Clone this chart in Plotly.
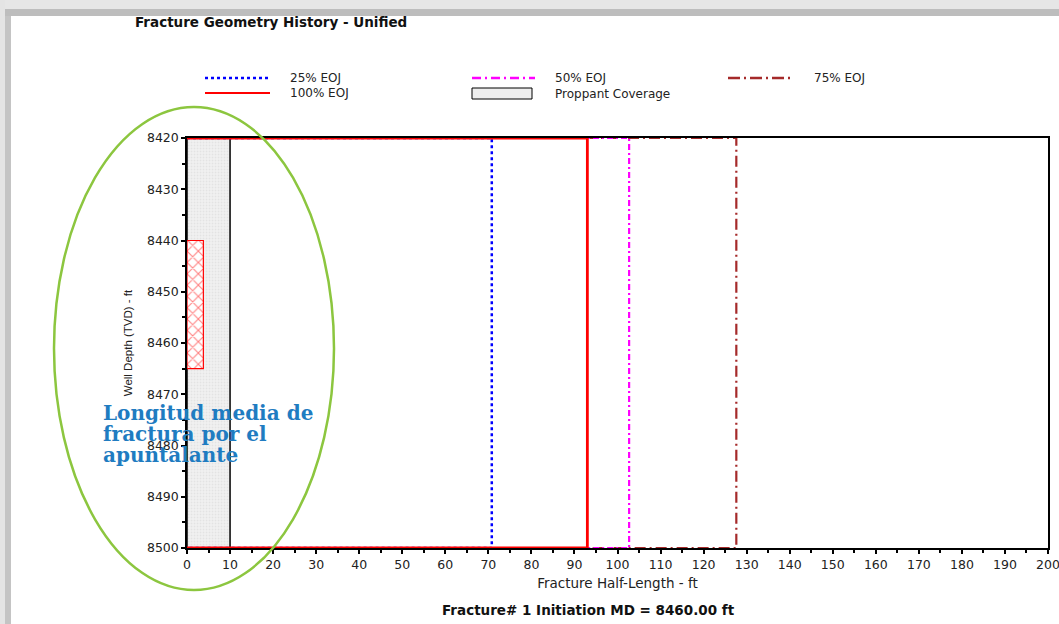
import plotly.graph_objects as go

# ---------------- data ----------------
eoj_labels = ["75% EOJ", "50% EOJ", "25% EOJ", "100% EOJ"]
eoj_half_lengths = [127.6, 102.7, 70.8, 93.0]
eoj_colors = ["#a52a2a", "#ff00ff", "#0000ff", "#ff0000"]
eoj_dashes = ["11px,4px,2px,4px", "6px,3px,2px,3px", "3px,3px", "solid"]
eoj_widths = [2.2, 2.2, 2.5, 2.8]

top_depth = 8420
bottom_depth = 8500
proppant_half_length = 10
perf_top = 8440
perf_bottom = 8465
perf_width = 3.8

x_ticks = list(range(0, 201, 10))
y_ticks = list(range(8420, 8501, 10))

annotation_lines = ["Longitud media de", "fractura por el", "apuntalante"]

# ---------------- geometry helpers (pixels -> paper) ----------------
W, H = 1059, 624
L, R, T, B = 187, 11, 138, 76
PW = W - L - R
PH = H - T - B


def px(x):
    return (x - L) / PW


def py(y):
    return (H - B - y) / PH


fig = go.Figure()

# proppant coverage
fig.add_trace(go.Scatter(
    x=[0, proppant_half_length, proppant_half_length, 0, 0],
    y=[top_depth, top_depth, bottom_depth, bottom_depth, top_depth],
    mode="lines", fill="toself",
    fillcolor="#f0f0f0",
    fillpattern=dict(shape=".", fgcolor="#d6d6d6", bgcolor="#f1f1f1", size=3, solidity=0.3),
    line=dict(color="#000000", width=1.5),
    hoverinfo="skip", showlegend=False))

# perforation interval (hatched)
fig.add_trace(go.Scatter(
    x=[0, perf_width, perf_width, 0, 0],
    y=[perf_top, perf_top, perf_bottom, perf_bottom, perf_top],
    mode="lines", fill="toself",
    fillpattern=dict(shape="x", fgcolor="#ff0000", bgcolor="#ffffff", size=8, solidity=0.25),
    line=dict(color="#ff0000", width=1.2),
    hoverinfo="skip", showlegend=False))

# EOJ fracture profiles
for lab, hl, col, dsh, wd in zip(eoj_labels, eoj_half_lengths, eoj_colors, eoj_dashes, eoj_widths):
    fig.add_trace(go.Scatter(
        x=[0, hl, hl, 0],
        y=[top_depth, top_depth, bottom_depth, bottom_depth],
        mode="lines", name=lab,
        line=dict(color=col, width=wd, dash=dsh),
        showlegend=False))

shapes = []
annotations = []

# window frame (screenshot border)
shapes.append(dict(type="rect", xref="paper", yref="paper", x0=px(0), x1=px(W), y0=py(0), y1=py(16),
                   fillcolor="#bdbdbd", line=dict(width=0), layer="above"))
shapes.append(dict(type="rect", xref="paper", yref="paper", x0=px(0), x1=px(W), y0=py(0), y1=py(9),
                   fillcolor="#e6e6e6", line=dict(width=0), layer="above"))
shapes.append(dict(type="rect", xref="paper", yref="paper", x0=px(0), x1=px(11), y0=py(16), y1=py(H),
                   fillcolor="#c4c4c4", line=dict(width=0), layer="above"))
shapes.append(dict(type="rect", xref="paper", yref="paper", x0=px(0), x1=px(5), y0=py(0), y1=py(H),
                   fillcolor="#e4e4e4", line=dict(width=0), layer="above"))

legend_font = dict(family="DejaVu Sans, Arial", size=12, color="#222222")

# custom legend
leg_items = [
    (205, 270, 78, "#0000ff", "dot", 2.5, 288, "25% EOJ"),
    (472, 535, 78, "#ff00ff", "9px,4px,2px,4px", 2.5, 553, "50% EOJ"),
    (728, 790, 78, "#a52a2a", "12px,4px,2px,4px", 2.5, 812, "75% EOJ"),
    (205, 270, 93, "#ff0000", "solid", 2, 288, "100% EOJ"),
]
for x0, x1, yy, col, dsh, wd, tx, txt in leg_items:
    shapes.append(dict(type="line", xref="paper", yref="paper", x0=px(x0), x1=px(x1), y0=py(yy), y1=py(yy),
                       line=dict(color=col, dash=dsh, width=wd)))
    annotations.append(dict(xref="paper", yref="paper", x=px(tx), y=py(yy), text=txt, showarrow=False,
                            xanchor="left", yanchor="middle", font=legend_font))
shapes.append(dict(type="rect", xref="paper", yref="paper", x0=px(472), x1=px(532), y0=py(88), y1=py(99),
                   fillcolor="#eeeeee", line=dict(color="#000000", width=1)))
annotations.append(dict(xref="paper", yref="paper", x=px(553), y=py(94), text="Proppant Coverage", showarrow=False,
                        xanchor="left", yanchor="middle", font=legend_font))

# green ellipse annotation
shapes.append(dict(type="circle", xref="paper", yref="paper", x0=px(54), x1=px(334), y0=py(107), y1=py(590),
                   line=dict(color="#8cc63f", width=2.5), layer="above"))

# titles
annotations.append(dict(xref="paper", yref="paper", x=px(133), y=py(22), text="<b>Fracture Geometry History - Unified</b>",
                        showarrow=False, xanchor="left", yanchor="middle",
                        font=dict(family="DejaVu Sans, Arial", size=13.5, color="#111111")))
annotations.append(dict(xref="paper", yref="paper", x=px(440), y=py(610), text="<b>Fracture# 1 Initiation MD = 8460.00 ft</b>",
                        showarrow=False, xanchor="left", yanchor="middle",
                        font=dict(family="DejaVu Sans, Arial", size=13.5, color="#111111")))
for i, line_txt in enumerate(annotation_lines):
    annotations.append(dict(xref="paper", yref="paper", x=px(101), y=py(413 + 21 * i),
                            text="<b>" + line_txt + "</b>",
                            showarrow=False, xanchor="left", yanchor="middle", align="left",
                            font=dict(family="DejaVu Serif, Liberation Serif", size=20, color="#1f7cc1")))

axis_font = dict(family="DejaVu Sans, Arial", size=12.5, color="#222222")

fig.update_layout(
    width=W, height=H,
    margin=dict(l=L, r=R, t=T, b=B, autoexpand=False),
    paper_bgcolor="#ffffff", plot_bgcolor="#ffffff",
    showlegend=False,
    shapes=shapes, annotations=annotations,
    xaxis=dict(range=[0, 200], tickvals=x_ticks, ticks="outside", ticklen=4, tickwidth=1.5, tickcolor="#000000",
               minor=dict(dtick=5, ticks="outside", ticklen=3, tickcolor="#000000", tickwidth=1.5),
               showgrid=False, zeroline=False, showline=True, linecolor="#000000", linewidth=1.5, mirror=True,
               tickfont=axis_font, automargin=False, ticklabeloverflow="allow",
               title=dict(text="Fracture Half-Length - ft",
                          font=dict(family="DejaVu Sans, Arial", size=13.5, color="#222222"),
                          standoff=8),
               layer="below traces"),
    yaxis=dict(range=[bottom_depth, top_depth], tickvals=y_ticks, ticks="outside", ticklen=4, tickwidth=1.5,
               tickcolor="#000000",
               minor=dict(dtick=5, ticks="outside", ticklen=3, tickcolor="#000000", tickwidth=1.5),
               showgrid=False, zeroline=False, showline=True, linecolor="#000000", linewidth=1.5, mirror=True,
               tickfont=axis_font, automargin=False, ticklabeloverflow="allow",
               title=dict(text="Well Depth (TVD) - ft",
                          font=dict(family="Liberation Sans, Arial", size=11.5, color="#222222"),
                          standoff=12),
               layer="below traces"),
)

fig.write_html("out.html")
